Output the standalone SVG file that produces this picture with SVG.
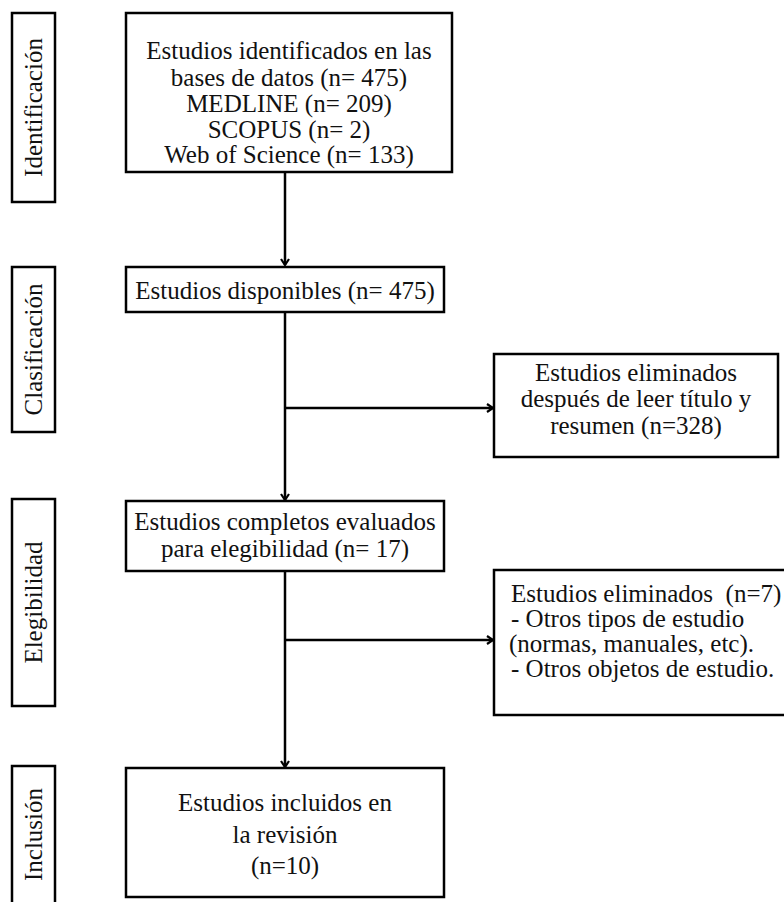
<svg xmlns="http://www.w3.org/2000/svg" width="784" height="902" viewBox="0 0 784 902">
<style>
.box{fill:#fff;stroke:#000;stroke-width:2.5}
.t{font-family:"Liberation Serif","Times New Roman",serif;font-size:25px;fill:#111}
.c{text-anchor:middle}
.ln{fill:none;stroke:#000;stroke-width:2.5}
</style>
<defs>
<marker id="ah" markerUnits="userSpaceOnUse" markerWidth="12" markerHeight="12" refX="7" refY="5" orient="auto">
<path d="M1,1 L7,5 L1,9" fill="none" stroke="#000" stroke-width="2.2"/>
</marker>
</defs>
<g id="connectors">
<line class="ln" x1="285" y1="172" x2="285" y2="265" marker-end="url(#ah)"/>
<line class="ln" x1="285" y1="312" x2="285" y2="500" marker-end="url(#ah)"/>
<line class="ln" x1="285" y1="408" x2="493" y2="408" marker-end="url(#ah)"/>
<line class="ln" x1="285" y1="571" x2="285" y2="767" marker-end="url(#ah)"/>
<line class="ln" x1="285" y1="640" x2="493" y2="640" marker-end="url(#ah)"/>
</g>
<g id="stage-identificacion">
<rect class="box" x="12" y="13" width="43" height="189"/>
<text class="t c" transform="translate(42,107.5) rotate(-90)">Identificación</text>
</g>
<g id="stage-clasificacion">
<rect class="box" x="12" y="267" width="43" height="165"/>
<text class="t c" transform="translate(42,349.5) rotate(-90)">Clasificación</text>
</g>
<g id="stage-elegibilidad">
<rect class="box" x="12" y="499" width="43" height="207"/>
<text class="t c" transform="translate(42,602.5) rotate(-90)">Elegibilidad</text>
</g>
<g id="stage-inclusion">
<rect class="box" x="12" y="766" width="43" height="140"/>
<text class="t c" transform="translate(42,834.5) rotate(-90)">Inclusión</text>
</g>
<g id="identificados">
<rect class="box" x="126" y="13" width="326" height="159"/>
<text class="t c" x="289" y="59">Estudios identificados en las</text>
<text class="t c" x="289" y="86">bases de datos (n= 475)</text>
<text class="t c" x="289" y="112">MEDLINE (n= 209)</text>
<text class="t c" x="289" y="138">SCOPUS (n= 2)</text>
<text class="t c" x="289" y="163">Web of Science (n= 133)</text>
</g>
<g id="disponibles">
<rect class="box" x="126" y="267" width="318" height="45"/>
<text class="t c" x="285" y="299">Estudios disponibles (n= 475)</text>
</g>
<g id="eliminados1">
<rect class="box" x="494" y="354" width="284" height="103"/>
<text class="t c" x="636" y="381">Estudios eliminados</text>
<text class="t c" x="636" y="407">después de leer título y</text>
<text class="t c" x="636" y="434">resumen (n=328)</text>
</g>
<g id="completos">
<rect class="box" x="126" y="501" width="318" height="70"/>
<text class="t c" x="285" y="530">Estudios completos evaluados</text>
<text class="t c" x="285" y="557">para elegibilidad (n= 17)</text>
</g>
<g id="eliminados2">
<rect class="box" x="494" y="570" width="300" height="145"/>
<text class="t" x="511" y="602" xml:space="preserve">Estudios eliminados  (n=7)</text>
<text class="t" x="511" y="627">- Otros tipos de estudio</text>
<text class="t" x="509" y="652">(normas, manuales, etc).</text>
<text class="t" x="511" y="677">- Otros objetos de estudio.</text>
</g>
<g id="incluidos">
<rect class="box" x="126" y="768" width="318" height="129"/>
<text class="t c" x="285" y="811">Estudios incluidos en</text>
<text class="t c" x="285" y="843">la revisión</text>
<text class="t c" x="285" y="874">(n=10)</text>
</g>
</svg>
